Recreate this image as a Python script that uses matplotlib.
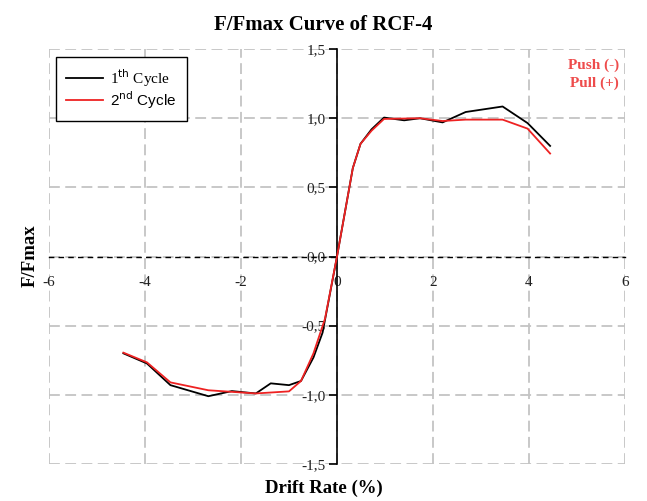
import matplotlib
matplotlib.use("Agg")
import matplotlib.pyplot as plt
from matplotlib.ticker import FuncFormatter

# Drift rate (%) and normalised force, first cycle
drift_1 = [-4.45, -3.96, -3.47, -2.68, -2.19, -1.69, -1.38, -1.00, -0.75, -0.49, -0.30, 0.0,
           0.33, 0.49, 0.72, 0.98, 1.40, 1.73, 2.20, 2.68, 3.45, 3.97, 4.44]
force_1 = [-0.70, -0.773, -0.93, -1.01, -0.973, -0.99, -0.917, -0.93, -0.90, -0.73, -0.55, 0.0,
           0.64, 0.815, 0.92, 1.005, 0.985, 1.0, 0.97, 1.045, 1.085, 0.965, 0.80]

# Second cycle
drift_2 = [-4.45, -3.96, -3.47, -2.68, -1.69, -1.00, -0.75, -0.49, -0.25, 0.0,
           0.33, 0.49, 0.72, 0.98, 1.73, 2.20, 2.68, 3.45, 3.97, 4.44]
force_2 = [-0.695, -0.765, -0.91, -0.967, -0.99, -0.975, -0.90, -0.70, -0.45, 0.0,
           0.64, 0.815, 0.91, 0.995, 1.0, 0.98, 0.99, 0.99, 0.925, 0.745]

x_ticks = [-6, -4, -2, 0, 2, 4, 6]
y_ticks = [-1.5, -1.0, -0.5, 0.0, 0.5, 1.0, 1.5]

serif = "Liberation Serif"

fig = plt.figure(figsize=(6.47, 5.01), dpi=100)
ax = fig.add_axes([0.0757, 0.0739, 0.8903, 0.8281])

ax.set_xlim(-6, 6)
ax.set_ylim(-1.5, 1.5)
ax.set_xticks(x_ticks)
ax.set_yticks(y_ticks)

ax.grid(True, color="#c4c4c4", linestyle=(0, (6, 3)), linewidth=1.3, zorder=0)
ax.set_axisbelow(True)

for side in ("top", "right"):
    ax.spines[side].set_visible(False)
ax.spines["left"].set_position(("data", 0))
ax.spines["left"].set_linewidth(1.2)
ax.spines["bottom"].set_position(("data", 0))
ax.spines["bottom"].set_linestyle((0, (3, 4)))
ax.spines["bottom"].set_linewidth(1.0)

ax.tick_params(axis="y", direction="out", length=6, width=1.2, pad=2)
ax.tick_params(axis="x", length=0, pad=14)

ax.yaxis.set_major_formatter(FuncFormatter(lambda v, p: f"{v:.1f}".replace(".", ",")))
ax.xaxis.set_major_formatter(FuncFormatter(lambda v, p: f"{int(v)}"))
for lab in ax.get_xticklabels() + ax.get_yticklabels():
    lab.set_fontfamily(serif)
    lab.set_fontsize(11)
    lab.set_color("#222222")

l1, = ax.plot(drift_1, force_1, color="black", linewidth=1.3, zorder=3)
l2, = ax.plot(drift_2, force_2, color="#ee2222", linewidth=1.3, zorder=4)

leg = ax.legend([l1, l2], ["1$^{\\mathrm{th}}$ Cycle", "2$^{\\mathrm{nd}}$ Cycle"],
                loc="upper left", bbox_to_anchor=(0.0122, 0.981), borderaxespad=0,
                fancybox=False, framealpha=1, edgecolor="black", handlelength=2.4,
                handletextpad=0.5, borderpad=0.65, labelspacing=0.02, fontsize=11)
leg.get_frame().set_linewidth(1.0)
leg.get_texts()[0].set_fontfamily(serif)
leg.get_texts()[1].set_fontfamily("Liberation Sans")

ax.text(0.99, 0.962, "Push (-)", transform=ax.transAxes, ha="right", va="center",
        color="#ee4c4c", fontweight="bold", fontfamily=serif, fontsize=11)
ax.text(0.99, 0.918, "Pull (+)", transform=ax.transAxes, ha="right", va="center",
        color="#ee4c4c", fontweight="bold", fontfamily=serif, fontsize=11)

fig.text(0.5, 0.950, "F/Fmax Curve of RCF-4", ha="center", va="center",
         fontweight="bold", fontfamily=serif, fontsize=15)
fig.text(0.5, 0.025, "Drift Rate (%)", ha="center", va="center",
         fontweight="bold", fontfamily=serif, fontsize=13.5)
fig.text(0.047, 0.489, "F/Fmax", ha="center", va="center", rotation=90,
         fontweight="bold", fontfamily=serif, fontsize=13.5)

fig.savefig("out.png", dpi=100)
